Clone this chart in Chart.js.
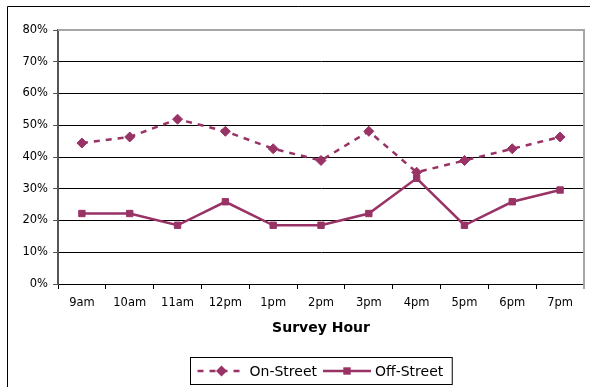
<!DOCTYPE html>
<html>
<head>
<meta charset="utf-8">
<script src="https://cdn.jsdelivr.net/npm/chart.js@4.4.1/dist/chart.umd.min.js"></script>
<style>
  html, body { margin: 0; padding: 0; background: #fff; }
  #grafica { display: block; }
</style>
</head>
<body>
<canvas id="grafica" width="590" height="387"></canvas>
<script>
// survey hours and occupancy (%)
const horas = ['9am', '10am', '11am', '12pm', '1pm', '2pm', '3pm', '4pm', '5pm', '6pm', '7pm'];
const onStreet = [44.4, 46.3, 51.9, 48.1, 42.6, 38.9, 48.1, 35.2, 38.9, 42.6, 46.3];
const offStreet = [22.2, 22.2, 18.5, 25.9, 18.5, 18.5, 22.2, 33.3, 18.5, 25.9, 29.6];
const ticksY = [0, 10, 20, 30, 40, 50, 60, 70, 80];

const ciruela = '#993366';
const fuente = 'DejaVu Sans, Verdana, sans-serif';

// outer frame + grey plot border
const marcos = {
  id: 'marcos',
  beforeDraw(chart) {
    const c = chart.ctx;
    c.save();
    c.fillStyle = '#fff';
    c.fillRect(0, 0, chart.width, chart.height);
    c.strokeStyle = '#000';
    c.lineWidth = 1;
    c.beginPath();
    c.moveTo(7.5, chart.height);
    c.lineTo(7.5, 6.5);
    c.lineTo(chart.width, 6.5);
    c.stroke();
    c.restore();
  },
  beforeDatasetsDraw(chart) {
    const a = chart.chartArea;
    const c = chart.ctx;
    c.save();
    c.strokeStyle = '#a6a6a6';
    c.lineWidth = 2;
    c.beginPath();
    c.moveTo(a.left, a.top);
    c.lineTo(a.right, a.top);
    c.lineTo(a.right, a.bottom + 5);
    c.stroke();
    c.restore();
  }
};

function marcador(c, estilo, x, y) {
  c.beginPath();
  if (estilo === 'rectRot') {
    c.moveTo(x - 5.5, y); c.lineTo(x, y - 5.5); c.lineTo(x + 5.5, y); c.lineTo(x, y + 5.5);
  } else {
    c.rect(x - 3.7, y - 3.7, 7.4, 7.4);
  }
  c.closePath();
  c.fill();
}

// legend box with line sample + marker, like the spreadsheet one
const leyenda = {
  id: 'leyenda',
  afterDraw(chart) {
    const c = chart.ctx;
    const a = chart.chartArea;
    c.save();
    c.font = '14px ' + fuente;
    const muestra = 48, hueco = 4, sep = 6, pad = 7;
    const sets = chart.data.datasets;
    let total = pad * 2 + 2;
    sets.forEach((d, i) => {
      total += muestra + hueco + c.measureText(d.label).width + (i ? sep : 0);
    });
    const x0 = Math.round((a.left + a.right) / 2 - total / 2) + 0.5;
    const y0 = 357.5, alto = 27;
    c.strokeStyle = '#000';
    c.lineWidth = 1;
    c.strokeRect(x0, y0, total, alto);
    let x = x0 + pad;
    const yc = y0 + alto / 2;
    sets.forEach((d, i) => {
      if (i) x += sep;
      c.strokeStyle = d.borderColor;
      c.fillStyle = d.borderColor;
      c.lineWidth = d.borderWidth;
      c.setLineDash(d.borderDash || []);
      c.beginPath();
      c.moveTo(x, yc);
      c.lineTo(x + muestra, yc);
      c.stroke();
      c.setLineDash([]);
      marcador(c, d.pointStyle, x + muestra / 2, yc);
      x += muestra + hueco;
      c.fillStyle = '#000';
      c.textBaseline = 'middle';
      c.textAlign = 'left';
      c.fillText(d.label, x, yc + 1);
      x += c.measureText(d.label).width;
    });
    c.restore();
  }
};

new Chart(document.getElementById('grafica'), {
  type: 'line',
  data: {
    labels: horas,
    datasets: [
      {
        label: 'On-Street',
        data: onStreet,
        borderColor: ciruela,
        backgroundColor: ciruela,
        borderWidth: 2.5,
        borderDash: [6, 6],
        pointStyle: 'rectRot',
        pointRadius: 5,
        pointBorderWidth: 1,
        tension: 0
      },
      {
        label: 'Off-Street',
        data: offStreet,
        borderColor: ciruela,
        backgroundColor: ciruela,
        borderWidth: 2.5,
        pointStyle: 'rect',
        pointRadius: 4.5,
        pointBorderWidth: 1,
        tension: 0
      }
    ]
  },
  options: {
    responsive: false,
    animation: false,
    layout: { padding: { top: 30, right: 6, left: 0, bottom: 0 } },
    plugins: {
      legend: { display: false },
      tooltip: { enabled: false },
      title: { display: false }
    },
    scales: {
      x: {
        offset: true,
        afterFit(s) { s.height = 103; },
        border: { color: '#000', width: 1 },
        grid: { offset: true, drawOnChartArea: false, tickLength: 5, color: '#000' },
        ticks: { color: '#000', padding: 7, font: { family: fuente, size: 11.5 } },
        title: {
          display: true,
          text: 'Survey Hour',
          color: '#000',
          font: { family: fuente, size: 14, weight: 'bold' },
          padding: { top: 0, bottom: 50.6 }
        }
      },
      y: {
        min: 0,
        max: 80,
        afterFit(s) { s.width = 58; },
        afterBuildTicks(s) { s.ticks = ticksY.map(v => ({ value: v })); },
        border: { color: '#555', width: 2 },
        grid: {
          tickLength: 5,
          color: ctx => (ctx.tick && ctx.tick.value === 80 ? 'rgba(0,0,0,0)' : '#000'),
          tickColor: '#555'
        },
        ticks: {
          color: '#000',
          padding: 5,
          font: { family: fuente, size: 11.5 },
          callback: v => v + '%'
        }
      }
    }
  },
  plugins: [marcos, leyenda]
});
</script>
</body>
</html>
